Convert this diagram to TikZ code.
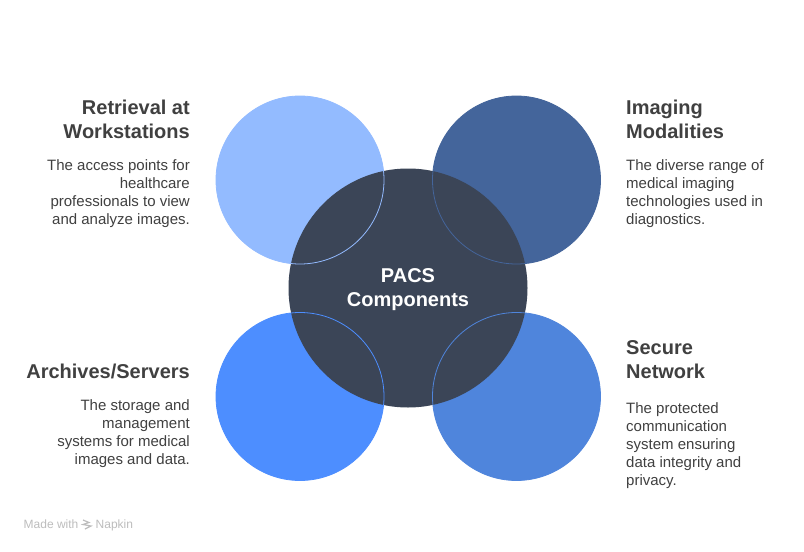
\documentclass[tikz,border=0pt]{standalone}
\usepackage{fontspec}
\setmainfont{Liberation Sans}
\definecolor{hubcolor}{HTML}{3B4557}
\definecolor{textcolor}{HTML}{404040}
\definecolor{markcolor}{HTML}{BDBDBD}
\definecolor{lightblue}{HTML}{93BBFF}
\definecolor{deepblue}{HTML}{44659B}
\definecolor{brightblue}{HTML}{4D8EFF}
\definecolor{midblue}{HTML}{4F85DC}
\newcommand{\petalradius}{84pt}
\newcommand{\hubradius}{119.5pt}
\tikzset{
  title/.style={text=textcolor,font=\fontsize{20}{24}\selectfont\bfseries,inner sep=0pt},
  body/.style={text=textcolor,font=\fontsize{15}{18}\selectfont,inner sep=0pt},
  leftside/.style={anchor=north east,align=right},
  rightside/.style={anchor=north west,align=left},
  rim/.style={line width=0.8pt},
  brand/.style={text=markcolor,font=\fontsize{12}{14}\selectfont,anchor=base west,inner sep=0pt}
}
\begin{document}
\begin{tikzpicture}[x=1pt,y=-1pt]
\useasboundingbox (0,0) rectangle (804,552);
\fill[white] (0,0) rectangle (804,552);
\coordinate (hub) at (408,288);
\coordinate (retrieval) at (300,180);
\coordinate (imaging) at (516.5,180);
\coordinate (archives) at (300,396.5);
\coordinate (network) at (516.5,396.5);
%petals
\fill[lightblue] (retrieval) circle (\petalradius);
\fill[deepblue] (imaging) circle (\petalradius);
\fill[brightblue] (archives) circle (\petalradius);
\fill[midblue] (network) circle (\petalradius);
%hub
\fill[hubcolor] (hub) circle (\hubradius);
%rims
\draw[lightblue,rim] (retrieval) circle (\petalradius);
\draw[deepblue,rim] (imaging) circle (\petalradius);
\draw[brightblue,rim] (archives) circle (\petalradius);
\draw[midblue,rim] (network) circle (\petalradius);
\node[white,font=\fontsize{20}{24}\selectfont\bfseries,align=center,inner sep=0pt] (hublabel) at (408,289.5) {PACS\\Components};
%labels
\node[title,leftside] (retrievaltitle) at (190,100) {Retrieval at\\Workstations};
\node[body,leftside] (retrievaltext) at (190,159) {The access points for\\healthcare\\professionals to view\\and analyze images.};
\node[title,rightside] (imagingtitle) at (626,100) {Imaging\\Modalities};
\node[body,rightside] (imagingtext) at (626,159) {The diverse range of\\medical imaging\\technologies used in\\diagnostics.};
\node[title,leftside] (archivestitle) at (190,364) {Archives/Servers};
\node[body,leftside] (archivestext) at (190,399) {The storage and\\management\\systems for medical\\images and data.};
\node[title,rightside] (networktitle) at (626,340) {Secure\\Network};
\node[body,rightside] (networktext) at (626,402) {The protected\\communication\\system ensuring\\data integrity and\\privacy.};
%watermark
\node[brand] (madewith) at (23.5,528.5) {Made with};
\node[brand] (napkin) at (95.5,528.5) {Napkin};
\draw[markcolor,line width=1.2pt] (83,520) -- (89,522.5) -- (83,524.5) -- (91,526) -- (85,529);
\end{tikzpicture}
\end{document}
